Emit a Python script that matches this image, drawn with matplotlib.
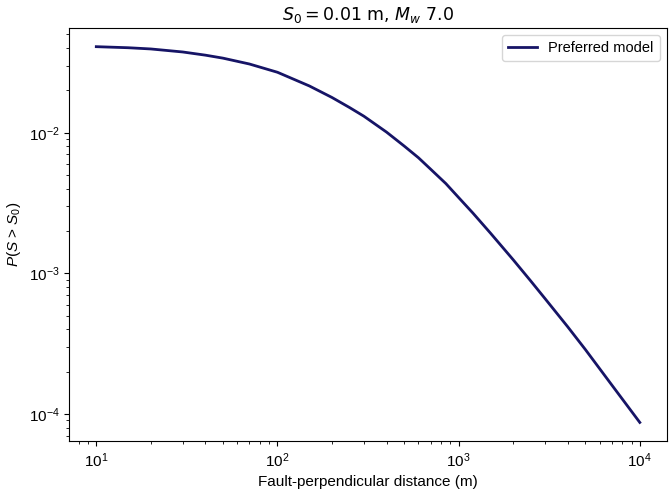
import numpy as np
import matplotlib
matplotlib.use('Agg')
import matplotlib.pyplot as plt

# values (log-log curve)
distance = [10, 15, 20, 30, 40, 50, 70, 100, 150, 200, 250, 300, 400, 500,
            600, 700, 850, 1000, 1200, 1500, 2000, 2500, 3000, 4000, 5000,
            7000, 10000]
prob = [0.0409, 0.0402, 0.0394, 0.0375, 0.0356, 0.0339, 0.0308, 0.0269,
        0.0215, 0.0178, 0.0151, 0.0131, 0.0101, 0.00805, 0.00664, 0.00551,
        0.00435, 0.00346, 0.00268, 0.00193, 0.00125, 0.000883, 0.000661,
        0.000417, 0.000288, 0.000161, 0.0000871]

plt.rcParams['font.family'] = ['Liberation Sans', 'DejaVu Sans']
plt.rcParams['mathtext.fontset'] = 'custom'
plt.rcParams['mathtext.rm'] = 'Liberation Sans'
plt.rcParams['mathtext.it'] = 'Liberation Sans:italic'

fig = plt.figure(figsize=(6.71, 4.98), dpi=100)
ax = fig.add_axes([0.103, 0.114, 0.891, 0.830])

ax.plot(distance, prob, color='#161466', lw=2, label='Preferred model')
ax.set_xscale('log')
ax.set_yscale('log')

ax.set_title(r'$S_0 = 0.01$ m, $M_w$ 7.0', fontsize=12.5,
             family=['DejaVu Sans'], math_fontfamily='dejavusans')
ax.set_xlabel('Fault-perpendicular distance (m)', fontsize=11)
ax.set_ylabel(r'$P(S$ > $S_0)$', fontsize=11)
ax.tick_params(labelsize=11)
ax.legend(loc='upper right', fontsize=10.5)

fig.savefig('out.png', dpi=100)
